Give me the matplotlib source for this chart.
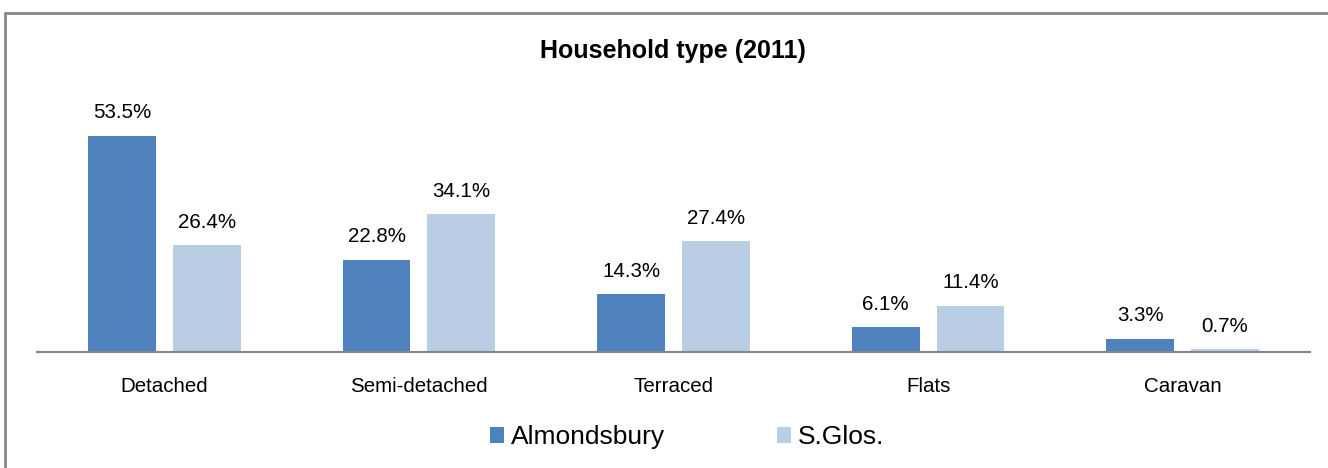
import matplotlib.pyplot as plt
import matplotlib.patches as patches
import numpy as np

categories = ["Detached", "Semi-detached", "Terraced", "Flats", "Caravan"]
almondsbury = [53.5, 22.8, 14.3, 6.1, 3.3]
s_glos = [26.4, 34.1, 27.4, 11.4, 0.7]
series_names = ["Almondsbury", "S.Glos."]
colors = ["#4F81BD", "#B9CDE5"]

plt.rcParams['font.family'] = ['Liberation Sans', 'DejaVu Sans']

W, H = 1328, 468
fig = plt.figure(figsize=(W / 100, H / 100), dpi=100)

# axes placed in pixel units: baseline at y=352, x from 37 to 1310
ax_left, ax_right = 37, 1310
ax_bottom = 352
ymax = 60
px_per_unit = 216 / 53.5
ax_top = ax_bottom - ymax * px_per_unit
ax = fig.add_axes([ax_left / W, 1 - ax_bottom / H,
                   (ax_right - ax_left) / W, (ax_bottom - ax_top) / H])

x = np.arange(len(categories))
width = 0.267
offset = 0.1665
for vals, off, c, name in zip([almondsbury, s_glos], [-offset, offset], colors, series_names):
    bars = ax.bar(x + off, vals, width, color=c, label=name)
    for b, v in zip(bars, vals):
        ax.text(b.get_x() + b.get_width() / 2, v + 5.7, f"{v:.1f}%",
                ha='center', va='center', fontsize=14.8, color='black')

ax.set_xlim(-0.5, len(categories) - 0.5)
ax.set_ylim(0, ymax)
ax.set_yticks([])
ax.set_xticks(x)
ax.set_xticklabels(categories, fontsize=14.8)
ax.tick_params(axis='x', length=0, pad=18)
for s in ['top', 'right', 'left']:
    ax.spines[s].set_visible(False)
ax.spines['bottom'].set_color('#868686')
ax.spines['bottom'].set_linewidth(1.5)

fig.text(673 / W, 1 - 51 / H, "Household type (2011)", ha='center', va='center',
         fontsize=18, fontweight='bold')

handles, labels = ax.get_legend_handles_labels()
fig.legend(handles, labels, loc='center', bbox_to_anchor=(687 / W, 1 - 437 / H),
           ncol=2, frameon=False, fontsize=19, handlelength=0.55, handleheight=0.55,
           handletextpad=0.25, columnspacing=4.25)

# outer border (left and top visible)
fig.patches.append(patches.Rectangle((5 / W, -0.1), 1.2, 1 - 13 / H + 0.1,
                                     transform=fig.transFigure, fill=False,
                                     edgecolor='#878787', linewidth=2))

fig.savefig("out.png", dpi=100)
